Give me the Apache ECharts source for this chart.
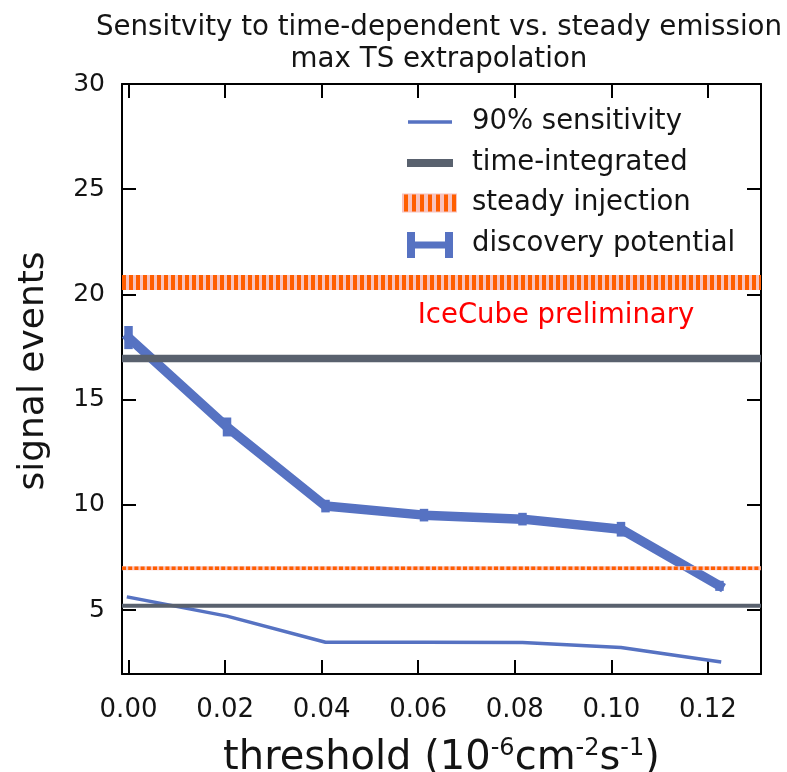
<!DOCTYPE html>
<html>
<head>
<meta charset="utf-8">
<script src="https://cdn.jsdelivr.net/npm/echarts@6/dist/echarts.min.js"></script>
<style>html,body{margin:0;padding:0;background:#fff;}#chart{width:787px;height:772px;}</style>
</head>
<body>
<div id="chart"></div>
<script>
// ---- data ----
const thresholds = [0, 0.0204, 0.0408, 0.0612, 0.0816, 0.102, 0.1224];
const sensitivity90 = [5.61, 4.71, 3.47, 3.47, 3.46, 3.22, 2.54];
const discoveryPotential = [17.95, 13.7, 9.94, 9.51, 9.32, 8.84, 6.15];
const discoveryErr = [0.55, 0.45, 0.3, 0.3, 0.3, 0.35, 0.24];
const timeIntegratedLevels = [5.2, 16.95];   // sensitivity, discovery
const steadyInjectionLevels = [6.98, 20.57]; // sensitivity, discovery
const xTicks = [0, 0.02, 0.04, 0.06, 0.08, 0.10, 0.12];
const yTicks = [5, 10, 15, 20, 25, 30];
const xRange = [-0.00135, 0.131];
const yRange = [1.96, 30];

const BLUE = '#5672c2', GRAY = '#59616e', ORANGE = '#ff5e00', PINK = '#f7c3bf';
const FONT = '"DejaVu Sans", sans-serif';
const TXT = '#141414';

const chart = echarts.init(document.getElementById('chart'), null, {renderer: 'canvas'});

function hline(v) { return [[xRange[0], v], [xRange[1], v]]; }

const axisLine = {show: true, onZero: false, lineStyle: {color: '#000', width: 2}};
function ticks(vals) { return {show: true, inside: true, length: 14, customValues: vals, lineStyle: {color: '#000', width: 2}}; }

const option = {
  animation: false,
  backgroundColor: '#fff',
  title: {
    text: 'Sensitvity to time-dependent vs. steady emission\nmax TS extrapolation',
    left: 434, top: 7, textAlign: 'center',
    textStyle: {fontFamily: FONT, fontSize: 27.7, fontWeight: 'normal', color: TXT, lineHeight: 32}
  },
  grid: {left: 122, right: 26, top: 84, bottom: 98, containLabel: false, outerBoundsMode: 'none'},
  xAxis: [
    {
      type: 'value', min: xRange[0], max: xRange[1], position: 'bottom',
      axisLine: axisLine, axisTick: ticks(xTicks), splitLine: {show: false},
      axisLabel: {customValues: xTicks, formatter: v => v.toFixed(2), fontFamily: FONT, fontSize: 26, color: TXT, margin: 23},
      name: 'threshold (10{sup|-6}cm{sup|-2}s{sup|-1})', nameLocation: 'middle', nameGap: 63,
      nameTextStyle: {fontFamily: FONT, fontSize: 40, color: TXT,
        rich: {sup: {fontFamily: FONT, fontSize: 24, color: TXT, padding: [0, 0, 20, 0]}}}
    },
    {
      type: 'value', min: xRange[0], max: xRange[1], position: 'top',
      axisLine: axisLine, axisTick: ticks(xTicks), axisLabel: {show: false}, splitLine: {show: false}
    }
  ],
  yAxis: [
    {
      type: 'value', min: yRange[0], max: yRange[1], position: 'left',
      axisLine: axisLine, axisTick: ticks(yTicks), splitLine: {show: false},
      axisLabel: {customValues: yTicks, fontFamily: FONT, fontSize: 25, color: TXT, margin: 17},
      name: 'signal events', nameLocation: 'middle', nameGap: 70,
      nameTextStyle: {fontFamily: FONT, fontSize: 36, color: TXT, padding: [0, 0, 0, 16]}
    },
    {
      type: 'value', min: yRange[0], max: yRange[1], position: 'right',
      axisLine: axisLine, axisTick: ticks(yTicks), axisLabel: {show: false}, splitLine: {show: false}
    }
  ],
  series: [
    {
      name: 'discovery potential', type: 'line', symbol: 'none',
      data: thresholds.map((x, i) => [x, discoveryPotential[i]]),
      lineStyle: {color: BLUE, width: 9.5, cap: 'square', join: 'round'}
    },
    {
      name: 'discovery potential err', type: 'custom',
      data: thresholds.map((x, i) => [x, discoveryPotential[i], discoveryErr[i]]),
      renderItem: function (params, api) {
        const x = api.value(0), y = api.value(1), e = api.value(2);
        const lo = api.coord([x, y - e]), hi = api.coord([x, y + e]);
        return {type: 'line', shape: {x1: lo[0], y1: lo[1], x2: hi[0], y2: hi[1]},
          style: {stroke: BLUE, lineWidth: 8.5}};
      }
    },
    {
      name: '90% sensitivity', type: 'line', symbol: 'none',
      data: thresholds.map((x, i) => [x, sensitivity90[i]]),
      lineStyle: {color: BLUE, width: 3.5, cap: 'square', join: 'round'}
    },
    {name: 'time-integrated', type: 'line', symbol: 'none', data: hline(timeIntegratedLevels[1]),
      lineStyle: {color: GRAY, width: 7.5}},
    {name: 'time-integrated', type: 'line', symbol: 'none', data: hline(timeIntegratedLevels[0]),
      lineStyle: {color: GRAY, width: 4}},
    {name: 'steady injection bg', type: 'line', symbol: 'none', data: hline(steadyInjectionLevels[1]),
      lineStyle: {color: PINK, width: 15}},
    {name: 'steady injection', type: 'line', symbol: 'none', data: hline(steadyInjectionLevels[1]),
      lineStyle: {color: ORANGE, width: 15, type: [4, 3], cap: 'butt'}},
    {name: 'steady injection bg', type: 'line', symbol: 'none', data: hline(steadyInjectionLevels[0]),
      lineStyle: {color: PINK, width: 4}},
    {name: 'steady injection', type: 'line', symbol: 'none', data: hline(steadyInjectionLevels[0]),
      lineStyle: {color: ORANGE, width: 3.5, type: [4, 2.2], cap: 'butt'}}
  ],
  graphic: [
    // legend
    {type: 'line', shape: {x1: 408, y1: 122, x2: 452, y2: 122}, style: {stroke: BLUE, lineWidth: 3.5}},
    {type: 'text', x: 472, y: 122, style: {text: '90% sensitivity', fontFamily: FONT, fontSize: 27.5, fill: TXT, align: 'left', verticalAlign: 'middle'}},
    {type: 'line', shape: {x1: 407, y1: 163, x2: 453, y2: 163}, style: {stroke: GRAY, lineWidth: 8}},
    {type: 'text', x: 472, y: 163, style: {text: 'time-integrated', fontFamily: FONT, fontSize: 27.5, fill: TXT, align: 'left', verticalAlign: 'middle'}},
    {type: 'rect', shape: {x: 402, y: 193.5, width: 55, height: 19}, style: {fill: PINK}},
    {type: 'line', shape: {x1: 404, y1: 203, x2: 457, y2: 203}, style: {stroke: ORANGE, lineWidth: 17, lineDash: [4, 4], lineCap: 'butt'}},
    {type: 'text', x: 472, y: 203, style: {text: 'steady injection', fontFamily: FONT, fontSize: 27.5, fill: TXT, align: 'left', verticalAlign: 'middle'}},
    {type: 'line', shape: {x1: 411, y1: 245, x2: 449, y2: 245}, style: {stroke: BLUE, lineWidth: 7}},
    {type: 'line', shape: {x1: 411, y1: 232, x2: 411, y2: 258}, style: {stroke: BLUE, lineWidth: 8}},
    {type: 'line', shape: {x1: 449, y1: 232, x2: 449, y2: 258}, style: {stroke: BLUE, lineWidth: 8}},
    {type: 'text', x: 472, y: 244, style: {text: 'discovery potential', fontFamily: FONT, fontSize: 27.5, fill: TXT, align: 'left', verticalAlign: 'middle'}},
    // annotation
    {type: 'text', x: 556, y: 316, style: {text: 'IceCube preliminary', fontFamily: FONT, fontSize: 27.5, fill: '#ff0000', align: 'center', verticalAlign: 'middle'}}
  ]
};
chart.setOption(option);
</script>
</body>
</html>
